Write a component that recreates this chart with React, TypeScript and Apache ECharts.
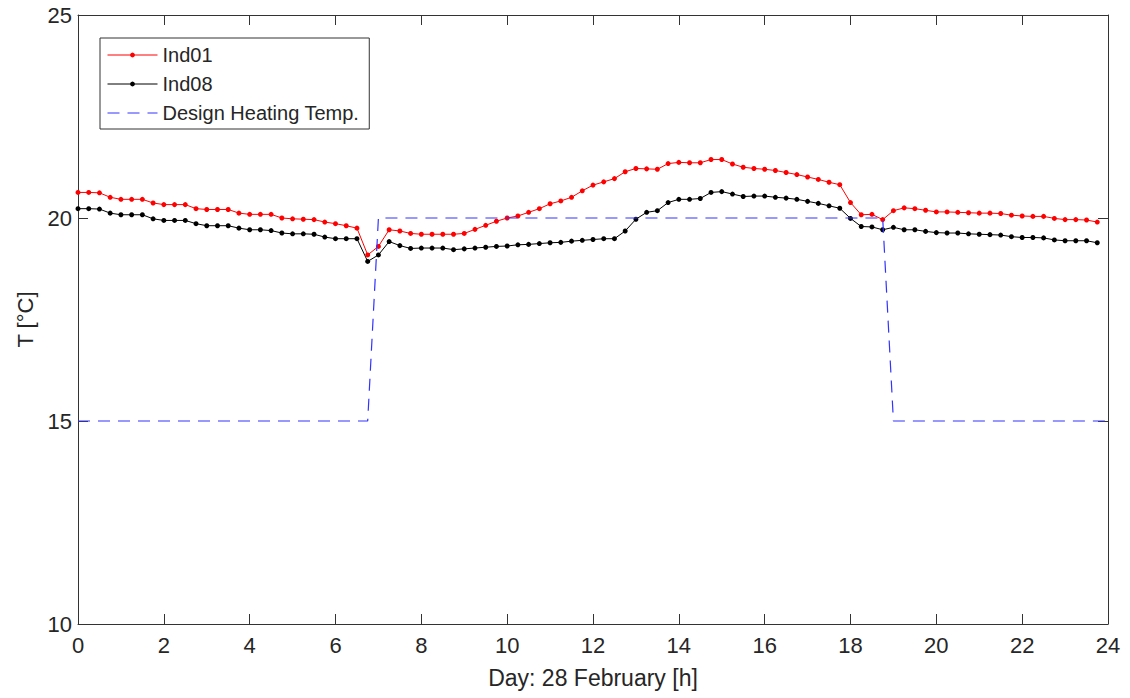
import React, { useEffect, useRef } from "react";
import * as echarts from "echarts";

// Indoor temperature samples every 15 minutes, 0:00 .. 23:45
const ind01: number[] = [
  20.63, 20.63, 20.62, 20.51, 20.46, 20.46, 20.46, 20.37, 20.33, 20.33, 20.33, 20.23,
  20.21, 20.21, 20.21, 20.12, 20.09, 20.09, 20.09, 20.0, 19.98, 19.97, 19.96, 19.9,
  19.86, 19.81, 19.75, 19.09, 19.3, 19.71, 19.68, 19.62, 19.6, 19.6, 19.6, 19.6,
  19.62, 19.72, 19.82, 19.92, 20.0, 20.05, 20.14, 20.23, 20.35, 20.42, 20.51, 20.67,
  20.81, 20.89, 20.97, 21.14, 21.22, 21.21, 21.2, 21.34, 21.37, 21.36, 21.36, 21.44,
  21.44, 21.33, 21.25, 21.22, 21.2, 21.17, 21.12, 21.07, 21.01, 20.95, 20.88, 20.82,
  20.38, 20.08, 20.09, 19.96, 20.18, 20.25, 20.23, 20.19, 20.15, 20.15, 20.14, 20.13,
  20.12, 20.12, 20.11, 20.07, 20.05, 20.04, 20.04, 19.99, 19.96, 19.96, 19.95, 19.9,
];

const ind08: number[] = [
  20.23, 20.23, 20.22, 20.12, 20.08, 20.08, 20.08, 19.98, 19.94, 19.94, 19.94, 19.86,
  19.81, 19.81, 19.81, 19.75, 19.71, 19.71, 19.69, 19.63, 19.61, 19.61, 19.6, 19.53,
  19.49, 19.49, 19.49, 18.93, 19.09, 19.42, 19.32, 19.25, 19.26, 19.26, 19.26, 19.22,
  19.24, 19.26, 19.28, 19.3, 19.31, 19.34, 19.35, 19.37, 19.39, 19.4, 19.43, 19.45,
  19.47, 19.49, 19.49, 19.68, 19.97, 20.14, 20.18, 20.38, 20.46, 20.46, 20.48, 20.63,
  20.65, 20.59, 20.53, 20.54, 20.54, 20.51, 20.49, 20.46, 20.41, 20.36, 20.3, 20.24,
  19.99, 19.79, 19.78, 19.71, 19.77, 19.71, 19.71, 19.67, 19.64, 19.63, 19.63, 19.61,
  19.6, 19.59, 19.58, 19.54, 19.52, 19.52, 19.51, 19.46, 19.44, 19.44, 19.44, 19.39,
];

const SAMPLE_STEP_H = 0.25;
const hours: number[] = ind01.map((_, i) => i * SAMPLE_STEP_H);

// Design heating temperature breakpoints
const designHours: number[] = [0, 6.75, 7, 18.75, 19, 24];
const designTemp: number[] = [15, 15, 20, 20, 15, 15];

const xTicks = { min: 0, max: 24, interval: 2 };
const yTicks = { min: 10, max: 25, interval: 5 };

const seriesNames = ["Ind01", "Ind08", "Design Heating Temp."];
const xAxisTitle = "Day: 28 February [h]";
const yAxisTitle = "T [°C]";

const FONT = "'Liberation Sans', Arial, sans-serif";
const TEXT = "#262626";
const AXIS = "#333333";

export default function App() {
  const ref = useRef<HTMLDivElement>(null);

  useEffect(() => {
    document.body.style.margin = "0";
    if (!ref.current) return;
    const chart = echarts.init(ref.current, undefined, { renderer: "svg" });

    const tickCommon = {
      show: true,
      inside: true,
      length: 10,
      lineStyle: { color: AXIS, width: 1 },
    };

    const option: any = {
      animation: false,
      backgroundColor: "#ffffff",
      textStyle: { fontFamily: FONT, color: TEXT },
      grid: { left: 78, right: 22, top: 15, bottom: 74, containLabel: false },
      legend: {
        orient: "vertical",
        left: 100,
        top: 38,
        padding: [6, 10, 5, 7],
        itemGap: 7,
        itemWidth: 50,
        itemHeight: 6,
        borderColor: AXIS,
        borderWidth: 1,
        backgroundColor: "#ffffff",
        lineStyle: { width: 1 },
        textStyle: { fontFamily: FONT, fontSize: 20, color: TEXT, lineHeight: 22 },
        data: [
          { name: seriesNames[0] },
          { name: seriesNames[1] },
          { name: seriesNames[2], itemStyle: { opacity: 0 } },
        ],
      },
      xAxis: [
        {
          type: "value",
          ...xTicks,
          position: "bottom",
          name: xAxisTitle,
          nameLocation: "middle",
          nameGap: 42,
          nameTextStyle: { fontFamily: FONT, fontSize: 23, color: TEXT },
          axisLine: { show: true, onZero: false, lineStyle: { color: AXIS, width: 1 } },
          axisTick: tickCommon,
          axisLabel: { fontFamily: FONT, fontSize: 22, color: TEXT, margin: 10 },
          splitLine: { show: false },
        },
        {
          type: "value",
          ...xTicks,
          position: "top",
          axisLine: { show: true, onZero: false, lineStyle: { color: AXIS, width: 1 } },
          axisTick: tickCommon,
          axisLabel: { show: false },
          splitLine: { show: false },
        },
      ],
      yAxis: [
        {
          type: "value",
          ...yTicks,
          position: "left",
          name: yAxisTitle,
          nameLocation: "middle",
          nameGap: 40,
          nameTextStyle: { fontFamily: FONT, fontSize: 22, color: TEXT },
          axisLine: { show: true, onZero: false, lineStyle: { color: AXIS, width: 1 } },
          axisTick: tickCommon,
          axisLabel: { fontFamily: FONT, fontSize: 22, color: TEXT, margin: 6 },
          splitLine: { show: false },
        },
        {
          type: "value",
          ...yTicks,
          position: "right",
          axisLine: { show: true, onZero: false, lineStyle: { color: AXIS, width: 1 } },
          axisTick: tickCommon,
          axisLabel: { show: false },
          splitLine: { show: false },
        },
      ],
      series: [
        {
          name: seriesNames[0],
          type: "line",
          data: hours.map((h, i) => [h, ind01[i]]),
          symbol: "circle",
          symbolSize: 5,
          showSymbol: true,
          color: "#ff0000",
          itemStyle: { color: "#ff0000" },
          lineStyle: { color: "#ff0000", width: 1 },
          z: 3,
        },
        {
          name: seriesNames[1],
          type: "line",
          data: hours.map((h, i) => [h, ind08[i]]),
          symbol: "circle",
          symbolSize: 5,
          showSymbol: true,
          color: "#000000",
          itemStyle: { color: "#000000" },
          lineStyle: { color: "#000000", width: 1 },
          z: 3,
        },
        {
          name: seriesNames[2],
          type: "line",
          data: designHours.map((h, i) => [h, designTemp[i]]),
          symbol: "none",
          color: "#3333ff",
          itemStyle: { color: "#3333ff" },
          lineStyle: { color: "#3333ff", width: 1.2, type: [12, 8] },
          z: 4,
        },
      ],
    };

    chart.setOption(option);
    return () => chart.dispose();
  }, []);

  return (
    <div
      ref={ref}
      style={{ position: "absolute", left: 0, top: 0, width: 1130, height: 698 }}
    />
  );
}
